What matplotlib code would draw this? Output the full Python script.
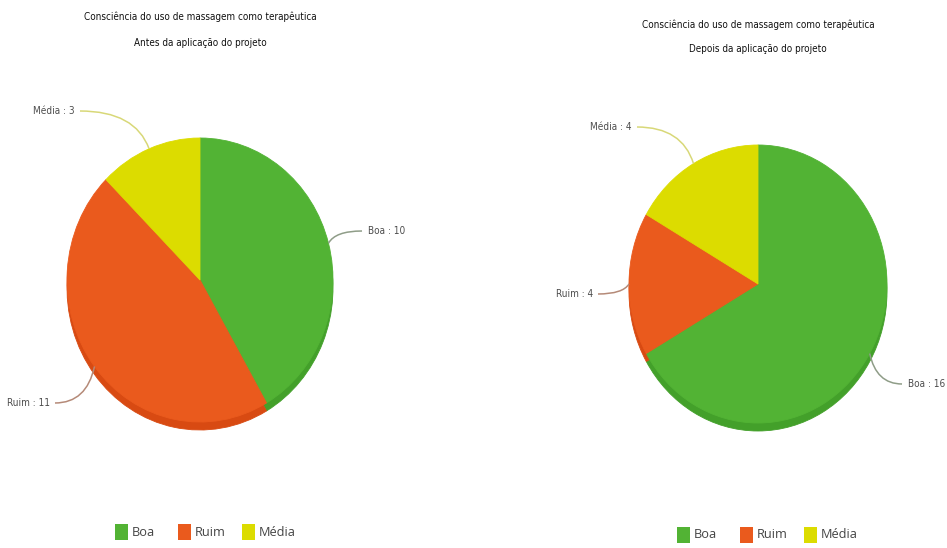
import numpy as np
import matplotlib
matplotlib.use("Agg")
import matplotlib.pyplot as plt
from matplotlib import font_manager as fm
from matplotlib.patches import Rectangle, PathPatch
from matplotlib.path import Path

# --- data -------------------------------------------------------------
categories = ["Boa", "Ruim", "Média"]
values_before = [10, 11, 3]
values_after = [16, 4, 4]
title_main = "Consciência do uso de massagem como terapêutica"
subtitle_before = "Antes da aplicação do projeto"
subtitle_after = "Depois da aplicação do projeto"

# --- style ------------------------------------------------------------
top_colors = ["#52b334", "#ea5a1d", "#dcdc00"]
side_colors = ["#43a02a", "#d84a12", "#c4c400"]
leader_colors = ["#8f9d88", "#b58a78", "#d8d878"]
LEGEND_FONT = ["Open Sans", "DejaVu Sans"]


def narrow_font(size):
    """Pick a condensed sans face if one is installed."""
    cands = []
    for f in fm.fontManager.ttflist:
        fname = f.fname.lower()
        if ("narrow" in fname or "condensed" in fname) and "bold" not in fname \
                and "italic" not in fname and "oblique" not in fname \
                and "light" not in fname and "mono" not in fname \
                and "serif" not in fname.replace("sans", ""):
            cands.append(f.fname)
    cands.sort(key=lambda p: (0 if "liberation" in p.lower() else
                              1 if "dejavu" in p.lower() else 2, p))
    if cands:
        return fm.FontProperties(fname=cands[0], size=size)
    return fm.FontProperties(family="Liberation Sans", size=size * 0.9)


W, H = 947, 548
fig = plt.figure(figsize=(W / 100, H / 100), dpi=100)
fig.patch.set_facecolor("white")

TITLE_FP = narrow_font(7.1)
LABEL_FP = narrow_font(7.2)


def px_axes(x0, y0, w, h, **kw):
    return fig.add_axes([x0 / W, 1 - (y0 + h) / H, w / W, h / H], **kw)


overlay = fig.add_axes([0, 0, 1, 1], zorder=5)
overlay.set_xlim(0, W)
overlay.set_ylim(H, 0)
overlay.axis("off")


def draw_pie(values, cx, cy, rx, ry, depth, subtitle, title_y, label_starts,
             legend_x, legend_y):
    ax = px_axes(cx - rx, cy - ry, 2 * rx, 2 * ry + depth, zorder=1)
    d = depth / ry
    # darker side of the disc, shifted down
    side, _ = ax.pie(values, colors=side_colors, startangle=90,
                     counterclock=False, center=(0, -d), radius=1)
    top, _ = ax.pie(values, colors=top_colors, startangle=90,
                    counterclock=False, center=(0, 0), radius=1)
    for w in list(side) + list(top):
        w.set_edgecolor(w.get_facecolor())
        w.set_linewidth(0.6)
    ax.set_aspect("auto")
    ax.set_xlim(-1, 1)
    ax.set_ylim(-1 - d, 1)
    ax.axis("off")

    # titles
    overlay.text(cx, title_y[0], title_main, ha="center", va="center",
                 fontproperties=TITLE_FP, color="#111111")
    overlay.text(cx, title_y[1], subtitle, ha="center", va="center",
                 fontproperties=TITLE_FP, color="#111111")

    # slice labels with curved leader lines
    total = float(sum(values))
    start = 90.0
    for i, v in enumerate(values):
        span = 360.0 * v / total
        mid = np.deg2rad(start - span / 2)
        start -= span
        ax_x = cx + rx * np.cos(mid)
        ax_y = cy - ry * np.sin(mid)
        sx, sy = label_starts[i]
        ctrl = (sx + 0.8 * (ax_x - sx), sy)
        path = Path([(sx, sy), ctrl, (ax_x, ax_y)],
                    [Path.MOVETO, Path.CURVE3, Path.CURVE3])
        overlay.add_patch(PathPatch(path, fill=False, lw=1.1,
                                    edgecolor=leader_colors[i]))
        left_side = sx < ax_x
        tx = sx - 5 if left_side else sx + 6
        overlay.text(tx, sy, f"{categories[i]} : {v}",
                     ha="right" if left_side else "left", va="center",
                     fontproperties=LABEL_FP, color="#4d4d4d")

    # legend
    x = legend_x
    for i, cat in enumerate(categories):
        overlay.add_patch(Rectangle((x, legend_y - 8), 13, 16,
                                    facecolor=top_colors[i], edgecolor="none"))
        overlay.text(x + 17, legend_y, cat, ha="left", va="center",
                     fontsize=9.2, family=LEGEND_FONT, color="#444444")
        x += [63, 64, 0][i]


draw_pie(values_before, cx=200, cy=280, rx=133, ry=142, depth=8,
         subtitle=subtitle_before, title_y=(17, 43),
         label_starts=[(362, 231), (55, 403), (80, 111)],
         legend_x=115, legend_y=532)

draw_pie(values_after, cx=758, cy=284, rx=129, ry=139, depth=8,
         subtitle=subtitle_after, title_y=(25, 49),
         label_starts=[(902, 384), (598, 294), (637, 127)],
         legend_x=677, legend_y=535)

fig.savefig("out.png", dpi=100, facecolor="white")
